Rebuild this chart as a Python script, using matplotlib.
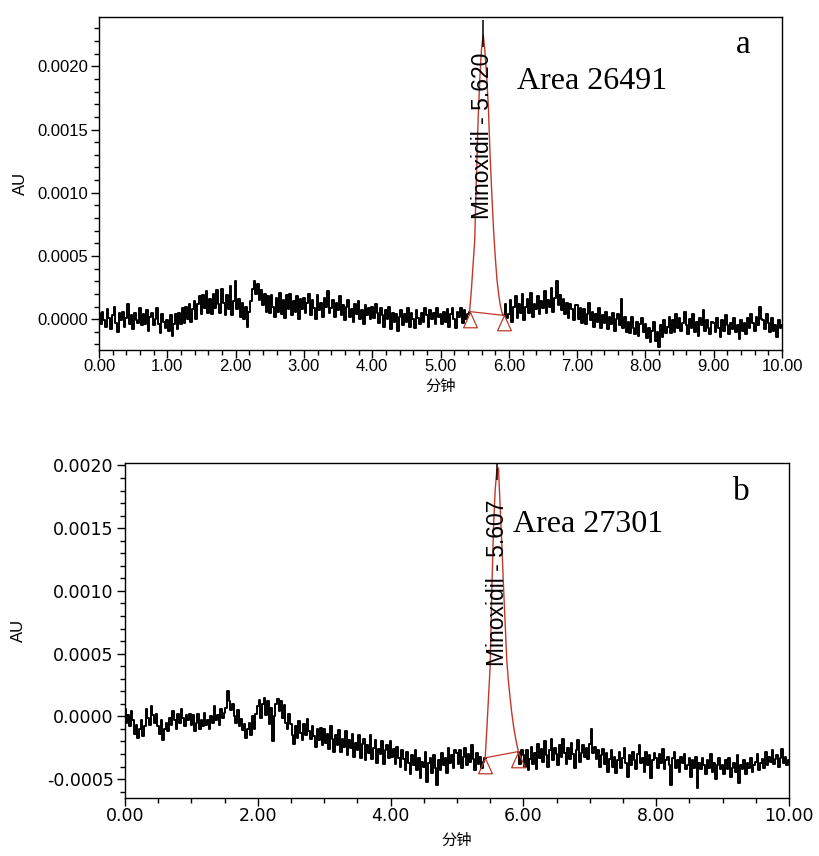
import numpy as np
import matplotlib.pyplot as plt
from matplotlib.path import Path
from matplotlib.ticker import MultipleLocator, FormatStrFormatter

plt.rcParams['font.family'] = ['Liberation Sans', 'Noto Sans CJK SC', 'DejaVu Sans']

# detector signal sampled every 0.025 min, in units of 1e-5 AU
signal_a = [
    5, -4, 6, -1, -6, 8, 1, -8, 3, 10, -3, -10, 5, -1, 6, -6, 1, 12, -4, 3,
    -8, 5, -1, -3, 9, -5, 4, -4, 7, -9, 2, 5, -5, 0, 9, -4, -11, 4, -2, -7,
    -1, -9, 3, -13, -4, 4, -8, 5, -4, 9, -3, 10, 0, 12, -2, 8, 14, 0, 12, 18,
    4, 19, 9, 22, 5, 16, 4, 20, 9, 23, 12, 5, 24, 13, 3, 19, 8, 26, 3, 14,
    30, 8, 16, 2, 13, 0, 10, -6, 6, 14, 24, 30, 20, 28, 15, 23, 11, 20, 6, 18,
    5, 19, 10, 2, 17, 6, 21, 4, 15, 1, 19, 8, 20, 3, 14, 6, 18, 0, 16, 8,
    17, 5, 13, 20, 3, 15, 9, 0, 19, 7, 13, 2, 17, 10, 22, 5, 9, 15, 2, 13,
    7, 18, 3, 11, -1, 10, 15, 2, 8, -2, 12, 4, 14, 0, 7, -4, 11, 3, 9, 0,
    10, 1, 12, 5, -3, 9, 3, -6, 7, 0, 10, -8, 5, -2, 4, -9, 2, 7, -5, 4,
    -2, 9, -6, 5, 0, -7, 7, 1, -4, 5, -2, 9, 3, -6, 7, 0, 5, -4, 9, 2,
    4, -4, 6, -2, 8, -6, 4, 9, 0, -7, 6, 2, 9, -3, 7, 0, 4,
    6, 22, 42, 62, 112, 158, 190, 214, 225, 212, 192, 168, 130, 100, 72, 50, 32, 20, 11, 5, 3,
    12, 1,
    4, 15, -2, 10, 18, 1, 12, 5, 20, -1, 10, 16, 5, 21, 2, 12, 8, 18, 4, 14,
    9, 22, 5, 15, 10, 25, 6, 17, 30, 11, 19, 7, 16, 4, 13, 1, 12, 8, -1, 11,
    11, 0, 9, -3, 8, -4, 4, 13, -1, 6, -6, 4, -2, 9, -7, 3, -3, 6, -8, 2,
    -4, 5, -9, 0, 4, -5, 16, -7, 2, -10, -2, -11, 2, -7, -12, -2, -13, -4, 1, -10,
    -4, -15, -7, -18, -9, -2, -17, -10, -22, -5, -14, -1, -11, -6, 2, -11, -1, -10, 4, -7,
    1, -9, -3, 6, -5, -12, 0, -7, 4, -10, -2, -13, 1, -5, 7, -9, -1, -7, -12, -2,
    -3, -10, 1, -7, -14, -1, -9, 3, -5, -12, -3, -8, 1, -10, -5, -16, -1, -9, -3, -12,
    1, -7, 4, -3, -9, 2, -5, 10, 0, -1, -8, 4, -3, -10, 1, -9, -5, -14, -1, -7,
    -5,
]

signal_b = [
    6, -5, 1, -8, 4, -3, -14, -7, -17, -10, -3, -16, -8, 6, -1, -7, 8, 1, -5, 2,
    -8, -14, -3, -19, -10, -5, -12, -1, -7, 4, -3, -10, 2, -5, 6, -1, -8, 1, -3, 2,
    -7, 1, -12, -5, 2, -10, -3, -8, 3, -7, -3, -10, 0, -5, 8, -3, 1, -7, 6, -1,
    3, 7, 20, 12, 5, 10, 0, -5, 5, -8, -2, -11, -6, -17, -10, -5, -15, 0, -10, 2,
    8, 13, -1, 10, 15, 1, 12, -6, 7, -20, 0, 10, 14, 4, 12, -1, 9, -5, -10, 2,
    -6, -15, -22, -8, -17, -4, -13, -19, -6, -15, -2, -12, -18, -8, -16, -24, -10, -19, -9, -23,
    -10, -21, -14, -26, -8, -18, -28, -15, -23, -11, -28, -18, -24, -12, -31, -19, -25, -14, -32, -21,
    -27, -15, -33, -22, -18, -35, -23, -29, -15, -34, -25, -19, -37, -26, -30, -20, -38, -27, -23, -33,
    -20, -32, -26, -38, -24, -33, -40, -27, -34, -43, -28, -37, -46, -31, -39, -27, -43, -33, -49, -36,
    -40, -28, -52, -37, -33, -45, -31, -41, -55, -35, -43, -29, -39, -33, -45, -25, -37, -31, -41, -27,
    -29, -38, -27, -41, -32, -25, -39, -30, -36, -23, -34, -43, -29, -38, -32, -41, -36,
    -33, -10, 15, 40, 100, 150, 180, 196, 198, 168, 138, 105, 75, 45, 28, 15, 3, -7, -15, -22, -28,
    -38, -27,
    -31, -40, -27, -43, -34, -24, -38, -29, -42, -22, -33, -26, -36, -20, -31, -40, -27, -18, -35, -25,
    -30, -39, -23, -32, -18, -29, -38, -25, -34, -21, -30, -41, -27, -19, -36, -29, -23, -32, -25, -34,
    -22, -10, -29, -24, -34, -27, -40, -31, -26, -38, -29, -44, -34, -27, -40, -32, -45, -35, -28, -41,
    -33, -25, -37, -48, -31, -39, -28, -35, -42, -30, -23, -37, -33, -44, -28, -39, -31, -49, -35, -29,
    -33, -41, -30, -37, -26, -42, -35, -32, -39, -55, -33, -28, -41, -35, -44, -32, -37, -30, -42, -39,
    -33, -48, -35, -41, -32, -57, -37, -42, -33, -39, -46, -35, -41, -30, -44, -37, -50, -39, -33, -42,
    -39, -46, -35, -42, -33, -48, -41, -37, -44, -31, -53, -39, -42, -35, -46, -37, -41, -33, -44, -39,
    -36, -30, -43, -37, -34, -41, -28, -39, -32, -36, -27, -38, -34, -31, -40, -33, -26, -37, -32, -39,
    -35,
]

step_min = 0.025
peak_start, peak_end = 5.425, 5.925   # integration limits, min
compound = "Minoxidil"
rt_a, rt_b = 5.620, 5.607
area_a, area_b = 26491, 27301

red = '#c0392b'
# open triangle with its apex on the data point
tri = Path([(0, 0), (-0.45, -1), (0.45, -1), (0, 0)],
           [Path.MOVETO, Path.LINETO, Path.LINETO, Path.CLOSEPOLY])


def draw_trace(ax, values, rt, area, label_y, area_xy, tag, tag_xy):
    y = np.array(values, dtype=float) * 1e-5
    t = np.arange(len(y)) * step_min
    i0 = int(round(peak_start / step_min))
    i1 = int(round(peak_end / step_min))

    black = y.copy()
    black[i0 + 1:i1] = np.nan
    ax.plot(t, black, color='black', lw=1.4, drawstyle='steps-mid')
    ax.plot(t[i0:i1 + 1], y[i0:i1 + 1], color=red, lw=1.0)
    # baseline drop between the integration marks
    ax.plot([t[i0], t[i1]], [y[i0], y[i1]], color=red, lw=0.9)
    ax.plot([t[i0], t[i1]], [y[i0], y[i1]], ls='none', marker=tri, ms=22,
            mfc='none', mec=red, mew=0.9)

    apex = np.nanmax(y[i0:i1 + 1])
    ax.vlines(rt, apex - 0.0001, apex + 0.00012, color='black', lw=1.1)
    ax.text(rt, label_y, f"{compound} - {rt:.3f}", rotation=90,
            ha='center', va='bottom', fontsize=16.5)
    ax.text(area_xy[0], area_xy[1], f"Area {area}", family='Liberation Serif',
            fontsize=23, va='center')
    ax.text(tag_xy[0], tag_xy[1], tag, transform=ax.transAxes,
            family='Liberation Serif', fontsize=24, ha='center', va='center')


def style_axes(ax, xmajor, xminor, tick_font, tick_size):
    ax.set_xlim(0, 10)
    ax.xaxis.set_major_locator(MultipleLocator(xmajor))
    ax.xaxis.set_minor_locator(MultipleLocator(xminor))
    ax.yaxis.set_major_locator(MultipleLocator(0.0005))
    ax.yaxis.set_minor_locator(MultipleLocator(0.0001))
    ax.xaxis.set_major_formatter(FormatStrFormatter('%.2f'))
    ax.yaxis.set_major_formatter(FormatStrFormatter('%.4f'))
    ax.tick_params(which='major', direction='out', length=6, width=1, pad=2)
    ax.tick_params(axis='x', which='major', pad=0.5)
    ax.tick_params(which='minor', direction='out', length=3.5, width=1)
    for lab in ax.get_xticklabels() + ax.get_yticklabels():
        lab.set_family(tick_font)
        lab.set_fontsize(tick_size)
    for sp in ax.spines.values():
        sp.set_linewidth(1.0)
    ax.set_xlabel("分钟", family=['Noto Sans CJK SC'], fontsize=11)
    ax.set_ylabel("AU", fontsize=12)


fig = plt.figure(figsize=(8.19, 8.56), dpi=100)

ax_a = fig.add_axes([0.1209, 0.591, 0.834, 0.389])
ax_a.set_ylim(-0.000245, 0.00239)
draw_trace(ax_a, signal_a, rt_a, area_a, 0.00079, (6.12, 0.00188), 'a', (0.943, 0.916))
style_axes(ax_a, 1, 0.2, 'Liberation Sans', 12)
ax_a.yaxis.set_label_coords(-0.104, 0.5)
ax_a.xaxis.set_label_coords(0.5, -0.082)

ax_b = fig.add_axes([0.1526, 0.0678, 0.8107, 0.3914])
ax_b.set_ylim(-0.00065, 0.00202)
draw_trace(ax_b, signal_b, rt_b, area_b, 0.00040, (5.84, 0.00153), 'b', (0.928, 0.913))
style_axes(ax_b, 2, 0.5, 'DejaVu Sans', 12.5)
ax_b.yaxis.set_label_coords(-0.149, 0.5)
ax_b.xaxis.set_label_coords(0.5, -0.101)

fig.savefig('out.png', dpi=100)
